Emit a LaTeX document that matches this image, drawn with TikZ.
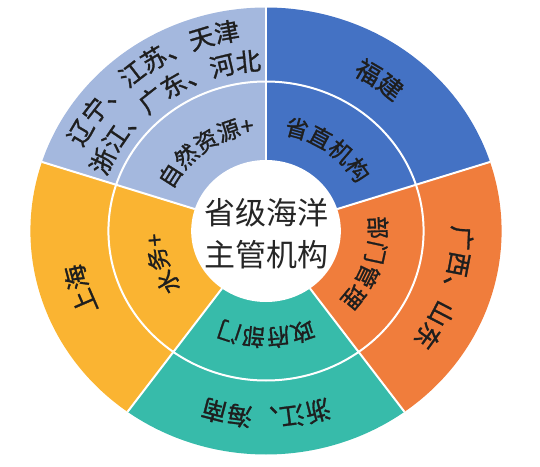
\documentclass[tikz,border=0pt]{standalone}
\usepackage{fontspec}
\setmainfont{Noto Sans CJK SC}
\newfontfamily\ringfont[FakeBold=1.2]{Noto Sans CJK SC}
\usepackage{tikz}
\usetikzlibrary{decorations.text}
\usepackage{xcolor}

\definecolor{zrblue}{HTML}{A4B8DE}
\definecolor{szblue}{HTML}{4472C4}
\definecolor{bmorange}{HTML}{F07D3C}
\definecolor{zfteal}{HTML}{37BBAA}
\definecolor{swyellow}{HTML}{FAB432}
\definecolor{labelink}{HTML}{1E1E1E}

\newcommand{\outerfont}{\ringfont\color{labelink}\fontsize{25}{25}\selectfont}
\newcommand{\innerfont}{\ringfont\color{labelink}\fontsize{23}{23}\selectfont}

\tikzset{
  arclabel/.style={decorate, decoration={text along path, text align=center, text={#1}}},
  divider/.style={white, line width=2pt},
}

\begin{document}
\begin{tikzpicture}[x=1pt, y=1pt]
\useasboundingbox (0,0) rectangle (540,466);
\begin{scope}[shift={(266,235)}, xscale=1.054]
% Draw the five sectors
\foreach \a/\b/\col in {18/90/szblue, -54/18/bmorange, -126/-54/zfteal, 162/234/swyellow, 90/162/zrblue}
  \fill[\col] (0,0) -- (\a:223.5) arc[start angle=\a, end angle=\b, radius=223.5] -- cycle;

% White borders between rings and sectors
\draw[divider] (0,0) circle[radius=149.5];
\foreach \a in {90,18,-54,-126,162}
  \draw[divider] (\a:71) -- (\a:223.5);
\fill[white] (0,0) circle[radius=71];

% Centre label
\node (hub) [align=center, text=black!85, font=\fontsize{31}{42}\selectfont] at (0,-3) {省级海洋\\主管机构};

% Inner ring labels
\path[arclabel={|\innerfont|省直机构}] (90:98) arc[start angle=90, end angle=18, radius=98];
\path[arclabel={|\innerfont|部门管理}] (18:98) arc[start angle=18, end angle=-54, radius=98];
\path[arclabel={|\innerfont|政府部门}] (-54:98) arc[start angle=-54, end angle=-126, radius=98];
\path[arclabel={|\innerfont|水务+}] (234:98) arc[start angle=234, end angle=162, radius=98];
\path[arclabel={|\innerfont|自然资源+}] (162:98) arc[start angle=162, end angle=90, radius=98];

% Outer ring labels
\path[arclabel={|\outerfont|福建}] (90:177) arc[start angle=90, end angle=18, radius=177];
\path[arclabel={|\outerfont|广西、山东}] (18:177) arc[start angle=18, end angle=-54, radius=177];
\path[arclabel={|\outerfont|浙江、海南}] (-54:177) arc[start angle=-54, end angle=-126, radius=177];
\path[arclabel={|\outerfont|上海}] (234:177) arc[start angle=234, end angle=162, radius=177];
\path[arclabel={|\outerfont|辽宁、江苏、天津}] (162:193) arc[start angle=162, end angle=90, radius=193];
\path[arclabel={|\outerfont|浙江、广东、河北}] (162:161) arc[start angle=162, end angle=90, radius=161];
\end{scope}
\end{tikzpicture}
\end{document}
